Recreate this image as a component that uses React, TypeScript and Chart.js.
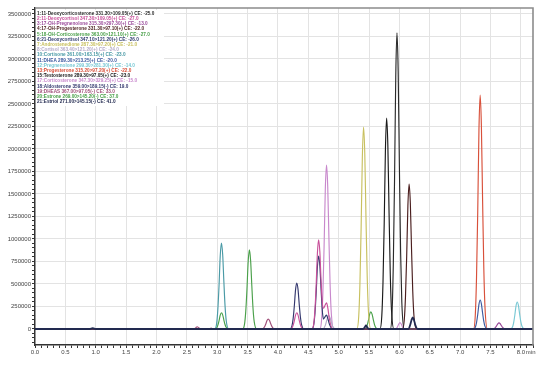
import React, { useEffect, useRef } from 'react';
import { Chart, registerables } from 'chart.js';

Chart.register(...registerables);

type Pt = [number, number];

// ---- legend / compound information ----
const compoundIds = [1, 2, 3, 4, 5, 6, 7, 8, 10, 11, 12, 13, 15, 17, 18, 19, 20, 21];
const compoundNames = [
  '11-Deoxycorticosterone 331.30>109.05(+) CE: -25.0',
  '11-Deoxycortisol 347.30>109.05(+) CE: -27.0',
  '17-OH-Pregnenolone 315.30>297.30(+) CE: -13.0',
  '17-OH-Progesterone 331.30>97.10(+) CE: -22.0',
  '18-OH-Corticosterone 363.00>121.10(+) CE: -27.0',
  '21-Deoxycortisol 347.10>121.20(+) CE: -26.0',
  'Androstenedione 287.30>97.20(+) CE: -21.0',
  'Cortisol 363.40>121.20(+) CE: -24.0',
  'Cortisone 361.00>163.15(+) CE: -23.0',
  'DHEA 289.30>213.25(+) CE: -20.0',
  'Pregnenolone 299.30>281.30(+) CE: -14.0',
  'Progesterone 315.20>97.20(+) CE: -22.0',
  'Testosterone 289.30>97.05(+) CE: -23.0',
  'Corticosterone 347.30>329.25(+) CE: -15.0',
  'Aldosterone 359.00>189.15(-) CE: 19.0',
  'DHEAS 367.00>97.05(-) CE: 33.0',
  'Estrone 269.00>145.20(-) CE: 37.0',
  'Estriol 271.00>145.15(-) CE: 41.0',
];
const traceColors = [
  '#2a2a2a', '#c8509a', '#9a4a9a', '#4a1e1e', '#4aa04a', '#2e3a6e',
  '#c8c060', '#b4aac8', '#4a9aa6', '#3c5aa0', '#78c8d4', '#d8503a',
  '#1a1a1a', '#c888cc', '#34386e', '#a0507a', '#48a048', '#222a50',
];

// ---- traces: [retention time (min), intensity] ----
const trDeoxycorticosterone: Pt[] = [[0, 0], [5.85, 0], [5.88, 197000], [5.9, 724000], [5.92, 1645000], [5.94, 2797000], [5.96, 3290000], [5.98, 2862000], [6.0, 1810000], [6.02, 855000], [6.04, 296000], [6.08, 0], [8.2, 0]];
const trDeoxycortisol: Pt[] = [[0, 0], [4.2, 0], [4.23, 11000], [4.25, 40000], [4.27, 90000], [4.29, 153000], [4.31, 180000], [4.33, 157000], [4.35, 99000], [4.37, 47000], [4.39, 16000], [4.43, 0], [4.56, 0], [4.59, 59000], [4.61, 218000], [4.63, 495000], [4.65, 842000], [4.67, 990000], [4.69, 861000], [4.71, 545000], [4.73, 300000], [4.75, 230000], [4.78, 270000], [4.8, 290000], [4.82, 240000], [4.85, 100000], [4.9, 0], [8.2, 0]];
const trOHPregnenolone: Pt[] = [[0, 0], [7.53, 0], [7.56, 4000], [7.58, 15000], [7.6, 34000], [7.62, 57000], [7.64, 67000], [7.66, 58000], [7.68, 37000], [7.7, 17000], [7.72, 6000], [7.76, 0], [8.2, 0]];
const trOHProgesterone: Pt[] = [[0, 0], [6.05, 0], [6.08, 97000], [6.1, 354000], [6.12, 806000], [6.14, 1369000], [6.16, 1611000], [6.18, 1402000], [6.2, 886000], [6.22, 419000], [6.24, 145000], [6.28, 0], [8.2, 0]];
const trOHCorticosterone: Pt[] = [[0, 0], [3.42, 0], [3.45, 53000], [3.47, 193000], [3.49, 439000], [3.51, 746000], [3.53, 878000], [3.55, 764000], [3.57, 483000], [3.59, 228000], [3.61, 79000], [3.65, 0], [8.2, 0]];
const trDeoxycortisol21: Pt[] = [[0, 0], [4.56, 0], [4.59, 49000], [4.61, 178000], [4.63, 405000], [4.65, 689000], [4.67, 810000], [4.69, 705000], [4.71, 446000], [4.73, 211000], [4.75, 110000], [4.78, 140000], [4.8, 155000], [4.82, 120000], [4.85, 50000], [4.9, 0], [8.2, 0]];
const trAndrostenedione: Pt[] = [[0, 0], [5.3, 0], [5.33, 135000], [5.35, 494000], [5.37, 1122000], [5.39, 1907000], [5.41, 2244000], [5.43, 1952000], [5.45, 1234000], [5.47, 583000], [5.49, 202000], [5.53, 0], [8.2, 0]];
const trCortisol: Pt[] = [[0, 0], [4.74, 0], [4.78, 40000], [4.81, 110000], [4.84, 150000], [4.87, 100000], [4.9, 30000], [4.95, 0], [8.2, 0]];
const trCortisone: Pt[] = [[0, 0], [2.96, 0], [2.99, 57000], [3.01, 210000], [3.03, 478000], [3.05, 812000], [3.07, 955000], [3.09, 831000], [3.11, 525000], [3.13, 248000], [3.15, 86000], [3.19, 0], [8.2, 0]];
const trDHEA: Pt[] = [[0, 0], [7.22, 0], [7.25, 19000], [7.27, 71000], [7.29, 161000], [7.31, 274000], [7.33, 322000], [7.35, 280000], [7.37, 177000], [7.39, 84000], [7.41, 29000], [7.45, 0], [8.2, 0]];
const trPregnenolone: Pt[] = [[0, 0], [7.83, 0], [7.86, 18000], [7.88, 66000], [7.9, 150000], [7.92, 255000], [7.94, 300000], [7.96, 261000], [7.98, 165000], [8.0, 78000], [8.02, 27000], [8.06, 0], [8.2, 0]];
const trProgesterone: Pt[] = [[0, 0], [7.22, 0], [7.25, 156000], [7.27, 572000], [7.29, 1300000], [7.31, 2210000], [7.33, 2600000], [7.35, 2262000], [7.37, 1430000], [7.39, 676000], [7.41, 234000], [7.45, 0], [8.2, 0]];
const trTestosterone: Pt[] = [[0, 0], [5.68, 0], [5.71, 141000], [5.73, 516000], [5.75, 1172000], [5.77, 1992000], [5.79, 2344000], [5.81, 2039000], [5.83, 1289000], [5.85, 609000], [5.87, 211000], [5.91, 0], [8.2, 0]];
const trCorticosterone: Pt[] = [[0, 0], [4.69, 0], [4.72, 109000], [4.74, 400000], [4.76, 910000], [4.78, 1547000], [4.8, 1820000], [4.82, 1583000], [4.84, 1001000], [4.86, 473000], [4.88, 164000], [4.92, 0], [5.94, 0], [5.97, 25000], [5.99, 55000], [6.01, 70000], [6.03, 55000], [6.05, 25000], [6.09, 0], [8.2, 0]];
const trAldosterone: Pt[] = [[0, 0], [4.2, 0], [4.23, 31000], [4.25, 112000], [4.27, 256000], [4.29, 434000], [4.31, 511000], [4.33, 445000], [4.35, 281000], [4.37, 133000], [4.39, 46000], [4.43, 0], [8.2, 0]];
const trDHEAS: Pt[] = [[0, 0], [2.62, 0], [2.65, 15000], [2.67, 25000], [2.7, 12000], [2.73, 0], [2.87, 0], [2.9, 10000], [2.93, 0], [3.73, 0], [3.76, 7000], [3.78, 24000], [3.8, 55000], [3.82, 94000], [3.84, 110000], [3.86, 96000], [3.88, 61000], [3.9, 29000], [3.92, 10000], [3.96, 0], [8.2, 0]];
const trEstrone: Pt[] = [[0, 0], [2.96, 0], [2.99, 11000], [3.01, 40000], [3.03, 90000], [3.05, 153000], [3.07, 180000], [3.09, 157000], [3.11, 99000], [3.13, 47000], [3.15, 16000], [3.19, 0], [5.42, 0], [5.45, 11000], [5.47, 42000], [5.49, 95000], [5.51, 162000], [5.53, 190000], [5.55, 165000], [5.57, 105000], [5.59, 49000], [5.61, 17000], [5.65, 0], [8.2, 0]];
const trEstriol: Pt[] = [[0, 0], [0.9, 0], [0.95, 8000], [1.0, 0], [5.4, 0], [5.43, 20000], [5.45, 40000], [5.47, 20000], [5.5, 0], [6.15, 0], [6.18, 50000], [6.2, 100000], [6.22, 130000], [6.24, 100000], [6.26, 50000], [6.3, 0], [8.2, 0]];

const traces: Pt[][] = [
  trDeoxycorticosterone, trDeoxycortisol, trOHPregnenolone, trOHProgesterone,
  trOHCorticosterone, trDeoxycortisol21, trAndrostenedione, trCortisol,
  trCortisone, trDHEA, trPregnenolone, trProgesterone, trTestosterone,
  trCorticosterone, trAldosterone, trDHEAS, trEstrone, trEstriol,
];

// axis settings
const X_MIN = 0;
const X_MAX = 8.2;
const X_MINOR = 0.1;
const X_MAJOR = 0.5;
const Y_MIN = -178000;
const Y_MAX = 3566000;
const Y_MINOR = 50000;
const Y_MAJOR = 250000;

const isMultiple = (v: number, step: number) => Math.abs(v / step - Math.round(v / step)) < 1e-6;

export default function App() {
  const ref = useRef<HTMLCanvasElement | null>(null);

  useEffect(() => {
    if (!ref.current) return;

    const overlay = {
      id: 'overlay',
      beforeDatasetsDraw(chart: any) {
        const ctx = chart.ctx;
        const a = chart.chartArea;
        ctx.save();
        ctx.fillStyle = '#ffffff';
        ctx.fillRect(a.left + 1, a.top + 2, 128, 96);
        ctx.restore();
      },
      afterDraw(chart: any) {
        const ctx = chart.ctx;
        const a = chart.chartArea;
        ctx.save();
        ctx.strokeStyle = '#8c8c8c';
        ctx.lineWidth = 1.6;
        ctx.beginPath();
        ctx.moveTo(a.left, a.top);
        ctx.lineTo(a.right, a.top);
        ctx.lineTo(a.right, a.bottom);
        ctx.stroke();
        ctx.font = 'bold 4.7px "Liberation Sans", Arial, sans-serif';
        ctx.textBaseline = 'middle';
        ctx.textAlign = 'left';
        compoundNames.forEach((name, i) => {
          ctx.fillStyle = traceColors[i];
          ctx.fillText(`${compoundIds[i]}:${name}`, a.left + 2, a.top + 5.5 + i * 5.2, 126);
        });
        const xs = chart.scales.x;
        ctx.font = '6px "Liberation Sans", Arial, sans-serif';
        ctx.fillStyle = '#444';
        ctx.textBaseline = 'top';
        ctx.fillText('min', xs.getPixelForValue(8.0) + 5, a.bottom + 4);
        ctx.restore();
      },
    };

    const chart = new Chart(ref.current, {
      type: 'line',
      data: {
        datasets: traces.map((pts, i) => ({
          label: compoundNames[i],
          data: pts.map(([x, y]) => ({ x, y })),
          borderColor: traceColors[i],
          borderWidth: i === 17 ? 1.8 : 1.15,
          order: i === 17 ? -1 : 0,
          pointRadius: 0,
          fill: false,
          cubicInterpolationMode: 'monotone' as const,
        })),
      },
      options: {
        animation: false,
        responsive: false,
        maintainAspectRatio: false,
        layout: { padding: { top: 8, right: 14, left: 0, bottom: 0 } },
        plugins: { legend: { display: false }, tooltip: { enabled: false } },
        scales: {
          x: {
            type: 'linear',
            min: X_MIN,
            max: X_MAX,
            afterBuildTicks: (axis: any) => {
              const t = [];
              for (let i = 0; i <= Math.round((X_MAX - X_MIN) / X_MINOR); i++) {
                t.push({ value: Math.round((X_MIN + i * X_MINOR) * 10) / 10 });
              }
              axis.ticks = t;
            },
            afterFit: (axis: any) => { axis.height = 23; },
            ticks: {
              autoSkip: false,
              maxRotation: 0,
              padding: 1,
              color: '#444',
              font: { size: 6, family: '"Liberation Sans", Arial, sans-serif' },
              callback: (_v: any, idx: number, ticks: any[]) => {
                const v = ticks[idx].value;
                return isMultiple(v, X_MAJOR) && v <= 8.0 + 1e-9 ? v.toFixed(1) : '';
              },
            },
            grid: {
              color: (c: any) => (c.tick && isMultiple(c.tick.value, X_MAJOR) && c.tick.value > 0 ? '#e3e3e3' : 'rgba(0,0,0,0)'),
              tickColor: '#333',
              tickLength: 3,
              drawTicks: true,
            },
            border: { display: true, color: '#333', width: 1.5 },
          },
          y: {
            type: 'linear',
            min: Y_MIN,
            max: Y_MAX,
            afterBuildTicks: (axis: any) => {
              const t = [];
              for (let v = Math.ceil(Y_MIN / Y_MINOR) * Y_MINOR; v <= Y_MAX; v += Y_MINOR) t.push({ value: v });
              axis.ticks = t;
            },
            afterFit: (axis: any) => { axis.width = 35; },
            ticks: {
              autoSkip: false,
              padding: 1,
              color: '#444',
              font: { size: 6, family: '"Liberation Sans", Arial, sans-serif' },
              callback: (_v: any, idx: number, ticks: any[]) => {
                const v = ticks[idx].value;
                return isMultiple(v, Y_MAJOR) ? String(v) : '';
              },
            },
            grid: {
              color: (c: any) => (c.tick && isMultiple(c.tick.value, Y_MAJOR) ? '#e3e3e3' : 'rgba(0,0,0,0)'),
              tickColor: '#333',
              tickLength: 3,
              drawTicks: true,
            },
            border: { display: true, color: '#333', width: 1.5 },
          },
        },
      },
      plugins: [overlay],
    } as any);

    return () => chart.destroy();
  }, []);

  return (
    <div style={{ position: 'absolute', left: 0, top: 0, width: 547, height: 368, background: '#fff' }}>
      <canvas ref={ref} width={547} height={368} />
    </div>
  );
}
